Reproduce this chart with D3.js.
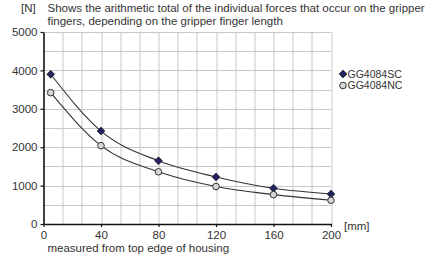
<!DOCTYPE html>
<html>
<head>
<meta charset="utf-8">
<style>
  body { margin: 0; background: #fff; font-family: "Liberation Sans", Arial, sans-serif; }
  text { fill: #333; font-size: 11.5px; }
  .grid line { stroke: #c8c8c8; stroke-width: 1; }
  .curve { fill: none; stroke: #333; stroke-width: 1.1; }
</style>
<title>Gripper finger forces</title>
</head>
<body>
<script src="https://cdn.jsdelivr.net/npm/d3@7"></script>
<script>

// finger length in mm
var lengths = [5, 40, 80, 120, 160, 200];
// total force in N
var forceSC = [3900, 2420, 1645, 1225, 930, 780];
var forceNC = [3420, 2040, 1360, 975, 765, 618];
var seriesNames = ["GG4084SC", "GG4084NC"];
var xTicks = [0, 40, 80, 120, 160, 200];
var yTicks = [0, 1000, 2000, 3000, 4000, 5000];
var titleLines = ["Shows the arithmetic total of the individual forces that occur on the gripper",
                  "fingers, depending on the gripper finger length"];

var W = 428, H = 258;
var margin = {top: 32, left: 43.5, right: 97, bottom: 34};
var width = W - margin.left - margin.right,
    height = H - margin.top - margin.bottom;

var svg = d3.select("body").append("svg")
    .attr("width", W)
    .attr("height", H);

var g = svg.append("g")
    .attr("transform", `translate(${margin.left},${margin.top})`);

var x = d3.scaleLinear().domain([0, 200]).range([0, width]);
var y = d3.scaleLinear().domain([0, 5000]).range([height, 0]);

// grid: 15 columns, 10 rows
var grid = g.append("g").attr("class", "grid");
grid.selectAll(".gx")
    .data(d3.range(1, 16).map(i => i * 200 / 15))
  .enter().append("line")
    .attr("x1", d => Math.round(x(d)) + 0.5).attr("x2", d => Math.round(x(d)) + 0.5)
    .attr("y1", 0).attr("y2", height);
grid.selectAll(".gy")
    .data(d3.range(1, 11).map(i => i * 500))
  .enter().append("line")
    .attr("x1", 0).attr("x2", width)
    .attr("y1", d => Math.round(y(d)) + 0.5).attr("y2", d => Math.round(y(d)) + 0.5);

// axes
var xAxis = g.append("g")
    .attr("transform", `translate(0,${height})`)
    .call(d3.axisBottom(x).tickValues(xTicks).tickFormat(d3.format("d"))
      .tickSize(3).tickPadding(4).tickSizeOuter(0));
var yAxis = g.append("g")
    .call(d3.axisLeft(y).tickValues(yTicks).tickFormat(d3.format("d"))
      .tickSize(3).tickPadding(3).tickSizeOuter(0));

[xAxis, yAxis].forEach(a => {
  a.select(".domain").attr("stroke", "#111").attr("stroke-width", 1.6);
  a.selectAll(".tick line").attr("stroke", "#111").attr("stroke-width", 1.2);
  a.selectAll(".tick text").style("font-size", "11.5px")
    .style("font-family", "'Liberation Sans', Arial, sans-serif").attr("fill", "#333");
});

// curves
var line = d3.line()
    .x(d => x(d[0]))
    .y(d => y(d[1]))
    .curve(d3.curveMonotoneX);

var dataSC = lengths.map((l, i) => [l, forceSC[i]]);
var dataNC = lengths.map((l, i) => [l, forceNC[i]]);

g.append("path").attr("class", "curve").attr("d", line(dataSC));
g.append("path").attr("class", "curve").attr("d", line(dataNC));

var diamond = d3.symbol().type(d3.symbolDiamond2).size(40);

g.selectAll(".pSC").data(dataSC).enter().append("path")
    .attr("transform", d => `translate(${x(d[0])},${y(d[1])})`)
    .attr("d", diamond)
    .attr("fill", "#23235e")
    .attr("stroke", "#111")
    .attr("stroke-width", 0.6);

g.selectAll(".pNC").data(dataNC).enter().append("circle")
    .attr("cx", d => x(d[0]))
    .attr("cy", d => y(d[1]))
    .attr("r", 3.3)
    .attr("fill", "#d6d6d6")
    .attr("stroke", "#333")
    .attr("stroke-width", 1);

// legend
var legend = svg.append("g").attr("transform", "translate(343,74)");
legend.append("path").attr("d", diamond).attr("fill", "#23235e").attr("stroke", "#111").attr("stroke-width", 0.6);
legend.append("circle").attr("cy", 11.5).attr("r", 3.3).attr("fill", "#d6d6d6").attr("stroke", "#333");
legend.selectAll(".lt").data(seriesNames).enter().append("text")
    .attr("x", 4.5).attr("y", (d, i) => i * 11.5 + 3.8)
    .style("font-size", "10.5px")
    .text(d => d);

// title
svg.append("text").attr("x", 21).attr("y", 12).text("[N]");
svg.selectAll(".title").data(titleLines).enter().append("text")
    .attr("x", 47.5).attr("y", (d, i) => 12 + i * 13)
    .text(d => d);

// x unit and caption
svg.append("text").attr("x", 344).attr("y", 230).text("[mm]");
svg.append("text").attr("x", 47.5).attr("y", 252).text("measured from top edge of housing");

</script>
</body>
</html>
